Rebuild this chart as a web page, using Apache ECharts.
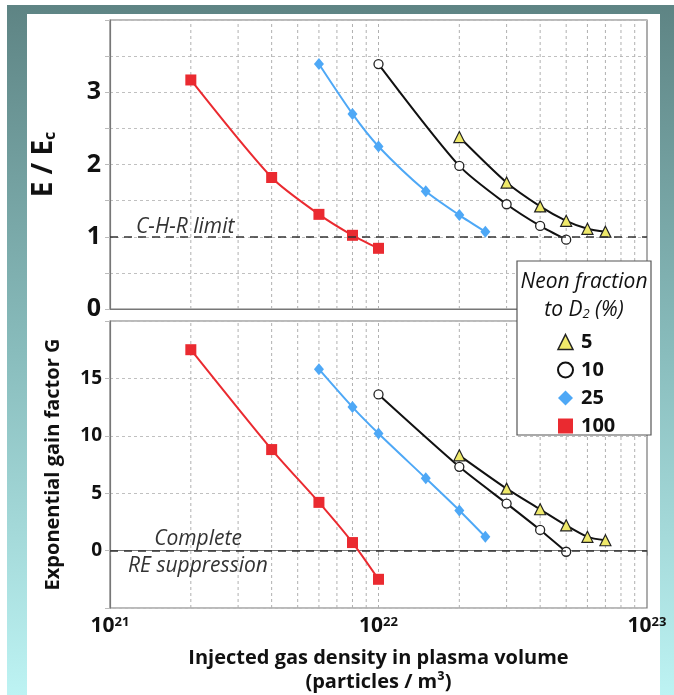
<!DOCTYPE html>
<html>
<head>
<meta charset="utf-8">
<script src="https://cdn.jsdelivr.net/npm/echarts@6/dist/echarts.min.js"></script>
<style>
html, body { margin: 0; padding: 0; background: #fff; }
#frame { position: absolute; left: 7px; top: 5px; width: 667px; height: 690px;
  background: linear-gradient(#5e8484, #88bcbc 50%, #bdf3f3); }
#panel { position: absolute; left: 27px; top: 14px; width: 633px; height: 681px; background: #fff; }
#chart { position: absolute; left: 0; top: 0; width: 674px; height: 695px; }
</style>
</head>
<body>
<div id="frame"></div>
<div id="panel"></div>
<div id="chart"></div>
<script>
// injected gas density (particles / m3) for each neon fraction
var x5 = [2e22, 3e22, 4e22, 5e22, 6e22, 7e22];
var x10 = [1e22, 2e22, 3e22, 4e22, 5e22];
var x25 = [6e21, 8e21, 1e22, 1.5e22, 2e22, 2.5e22];
var x100 = [2e21, 4e21, 6e21, 8e21, 1e22];

// E / Ec (upper panel)
var e5 = [2.38, 1.75, 1.42, 1.22, 1.11, 1.07];
var e10 = [3.39, 1.98, 1.45, 1.15, 0.96];
var e25 = [3.39, 2.70, 2.25, 1.63, 1.30, 1.07];
var e100 = [3.17, 1.82, 1.31, 1.02, 0.84];

// exponential gain factor G (lower panel)
var g5 = [8.3, 5.4, 3.6, 2.2, 1.2, 0.9];
var g10 = [13.6, 7.3, 4.1, 1.8, -0.1];
var g25 = [15.8, 12.5, 10.2, 6.3, 3.5, 1.2];
var g100 = [17.5, 8.8, 4.2, 0.7, -2.5];

// vertical grid lines
var vGridTicks = [2e21, 3e21, 4e21, 5e21, 6e21, 7e21, 8e21, 9e21, 1e22,
                  2e22, 3e22, 4e22, 5e22, 6e22, 7e22, 8e22, 9e22];

// y ranges of the two panels
var eRange = [0, 4];
var gRange = [-5, 20];

var FONT = "'Open Sans', sans-serif";
var gridDash = { type: [3, 3], color: '#c0c0c0', width: 1 };

function zip(xs, ys) {
	var out = [];
	for (var i = 0; i < xs.length; i++) out.push([xs[i], ys[i]]);
	return out;
}

var styles = {
	'5': { symbol: 'triangle', size: 11, item: { color: '#efe96a', borderColor: '#222', borderWidth: 1.2 }, line: '#111' },
	'10': { symbol: 'circle', size: 9, item: { color: '#fff', borderColor: '#222', borderWidth: 1.3 }, line: '#111' },
	'25': { symbol: 'diamond', size: [10, 12], item: { color: '#4ea8f6' }, line: '#4ea8f6' },
	'100': { symbol: 'rect', size: 11, item: { color: '#ea2a30' }, line: '#ea2a30' }
};

function dataSeries(name, data, idx) {
	var s = styles[name];
	return {
		name: name, type: 'line', xAxisIndex: idx, yAxisIndex: idx,
		data: data, smooth: 0.25, z: 4,
		symbol: s.symbol, symbolSize: s.size,
		itemStyle: s.item,
		lineStyle: { color: s.line, width: 2 }
	};
}

// vertical grid lines as one broken line series per panel
function vGridSeries(idx, range) {
	var pts = [];
	vGridTicks.forEach(function(v) {
		pts.push([v, range[0]], [v, range[1]], [v, null]);
	});
	return {
		type: 'line', xAxisIndex: idx, yAxisIndex: idx, data: pts, z: 2,
		showSymbol: false, symbol: 'none', connectNulls: false, silent: true,
		lineStyle: { type: [3, 3], color: '#b0b0b0', width: 1 }
	};
}

// dashed reference line (C-H-R limit / complete suppression)
function refSeries(idx, refValue) {
	return {
		type: 'line', xAxisIndex: idx, yAxisIndex: idx, data: [], z: 3, silent: true,
		markLine: {
			symbol: 'none', silent: true, label: { show: false },
			data: [{ yAxis: refValue, lineStyle: { type: [8, 6], color: '#333', width: 1.5 } }]
		}
	};
}

function xAxis(idx, showLabels) {
	return {
		type: 'log', logBase: 10, gridIndex: idx, min: 1e21, max: 1e23,
		axisLine: { lineStyle: { color: '#777', width: 1.2 } },
		axisTick: { show: showLabels, length: 5, lineStyle: { color: '#888' } },
		splitLine: { show: false },
		axisLabel: {
			show: showLabels, margin: 8, showMinLabel: true, showMaxLabel: true,
			formatter: function(v) {
				return '{b|10}{s|' + Math.round(Math.log10(v)) + '}';
			},
			rich: {
				b: { fontFamily: FONT, fontWeight: 'bold', fontSize: 21, color: '#111' },
				s: { fontFamily: FONT, fontWeight: 'bold', fontSize: 13, color: '#111', verticalAlign: 'top', lineHeight: 12 }
			}
		},
		name: showLabels ? 'Injected gas density in plasma volume\n(particles / m\u00b3)' : '',
		nameLocation: 'middle', nameGap: 38,
		nameTextStyle: { fontFamily: FONT, fontWeight: 'bold', fontSize: 20, color: '#111', lineHeight: 24 }
	};
}

var option = {
	animation: false,
	graphic: [
		{ type: 'text', z: 10, x: 136, y: 227,
		  style: { text: 'C-H-R limit', font: 'italic 21px ' + FONT, fill: '#333', textVerticalAlign: 'middle' } },
		{ type: 'text', z: 10, x: 198, y: 539,
		  style: { text: 'Complete', font: 'italic 21px ' + FONT, fill: '#333', textAlign: 'center', textVerticalAlign: 'middle' } },
		{ type: 'text', z: 10, x: 198, y: 566,
		  style: { text: 'RE suppression', font: 'italic 21px ' + FONT, fill: '#333', textAlign: 'center', textVerticalAlign: 'middle' } },
		// legend box and heading
		{ type: 'rect', z: 20, shape: { x: 517, y: 261, width: 134, height: 174 },
		  style: { fill: '#fff', stroke: '#555', lineWidth: 1.2 } },
		{ type: 'text', z: 21, x: 584, y: 282,
		  style: { text: 'Neon fraction', font: 'italic 21px ' + FONT, fill: '#111', textAlign: 'center', textVerticalAlign: 'middle' } },
		{ type: 'text', z: 21, x: 584, y: 309,
		  style: { text: '{a|to D}{s|2}{a| (%)}', textAlign: 'center', textVerticalAlign: 'middle',
			rich: {
				a: { font: 'italic 21px ' + FONT, fill: '#111', verticalAlign: 'bottom', lineHeight: 24 },
				s: { font: 'italic 13px ' + FONT, fill: '#111', verticalAlign: 'bottom', lineHeight: 6 }
			} } }
	],
	legend: {
		orient: 'vertical', left: 552, top: 327, z: 22,
		itemWidth: 15, itemHeight: 15, itemGap: 8,
		textStyle: { fontFamily: FONT, fontWeight: 'bold', fontSize: 20, color: '#111', padding: [0, 0, 0, 3] },
		data: [
			{ name: '5', icon: 'triangle', itemStyle: { color: '#efe96a', borderColor: '#222', borderWidth: 1.5 } },
			{ name: '10', icon: 'circle', itemStyle: { color: '#fff', borderColor: '#111', borderWidth: 2 } },
			{ name: '25', icon: 'diamond', itemStyle: { color: '#4ea8f6' } },
			{ name: '100', icon: 'rect', itemStyle: { color: '#ea2a30' } }
		]
	},
	grid: [
		{ left: 110, top: 20, width: 537, height: 289, show: true, borderColor: '#777', borderWidth: 1.2 },
		{ left: 110, top: 321, width: 537, height: 289, show: true, borderColor: '#777', borderWidth: 1.2 }
	],
	xAxis: [xAxis(0, false), xAxis(1, true)],
	yAxis: [
		{
			type: 'value', gridIndex: 0, min: eRange[0], max: eRange[1], interval: 0.5,
			axisLine: { show: true, lineStyle: { color: '#777', width: 1.2 } },
			axisTick: { show: true, length: 5, lineStyle: { color: '#bbb' } },
			splitLine: { show: true, lineStyle: gridDash },
			axisLabel: {
				margin: 9, fontFamily: FONT, fontWeight: 'bold', fontSize: 25, color: '#111',
				formatter: function(v) { return (v % 1 === 0 && v < 4) ? String(v) : ''; }
			},
			name: '{a|E / E}{s|c}', nameLocation: 'middle', nameRotate: 90, nameGap: 52,
			nameTextStyle: {
				rich: {
					a: { fontFamily: FONT, fontWeight: 'bold', fontSize: 28, color: '#111', verticalAlign: 'bottom', lineHeight: 32 },
					s: { fontFamily: FONT, fontWeight: 'bold', fontSize: 16, color: '#111', verticalAlign: 'bottom', lineHeight: 20 }
				}
			}
		},
		{
			type: 'value', gridIndex: 1, min: gRange[0], max: gRange[1], interval: 5,
			axisLine: { show: true, lineStyle: { color: '#777', width: 1.2 } },
			axisTick: { show: true, length: 5, lineStyle: { color: '#bbb' } },
			splitLine: { show: true, lineStyle: gridDash },
			axisLabel: {
				margin: 8, fontFamily: FONT, fontWeight: 'bold', fontSize: 19, color: '#111',
				formatter: function(v) { return (v >= 0 && v < 20) ? String(v) : ''; }
			},
			name: 'Exponential gain factor G', nameLocation: 'middle', nameRotate: 90, nameGap: 47,
			nameTextStyle: { fontFamily: FONT, fontWeight: 'bold', fontSize: 20, color: '#111' }
		}
	],
	series: [
		vGridSeries(0, eRange),
		vGridSeries(1, gRange),
		refSeries(0, 1),
		refSeries(1, 0),
		dataSeries('5', zip(x5, e5), 0),
		dataSeries('10', zip(x10, e10), 0),
		dataSeries('25', zip(x25, e25), 0),
		dataSeries('100', zip(x100, e100), 0),
		dataSeries('5', zip(x5, g5), 1),
		dataSeries('10', zip(x10, g10), 1),
		dataSeries('25', zip(x25, g25), 1),
		dataSeries('100', zip(x100, g100), 1)
	]
};

var chart = echarts.init(document.getElementById('chart'));
chart.setOption(option);
</script>
</body>
</html>
